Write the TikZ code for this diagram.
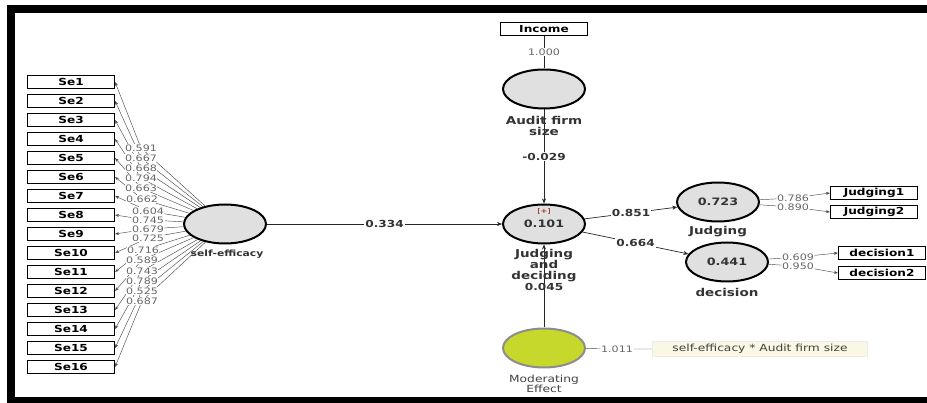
\documentclass[tikz,border=0pt]{standalone}
\usepackage{fontspec}
\setmainfont{DejaVu Sans}[FakeStretch=1.25]
\usetikzlibrary{shapes.geometric,arrows.meta,backgrounds}
\definecolor{modgreen}{RGB}{198,216,44}
\definecolor{itemfill}{RGB}{250,247,228}

\begin{document}
\begin{tikzpicture}[x=1pt,y=-1pt,
  lv/.style={ellipse,draw,line width=2pt,fill=black!12,minimum width=82pt,minimum height=39pt,inner sep=0pt,font=\bfseries\fontsize{10.2}{11}\selectfont,text=black!80},
  ind/.style={draw,line width=1.1pt,minimum width=87pt,minimum height=13pt,inner sep=0pt,font=\bfseries\fontsize{9.7}{10}\selectfont},
  lvname/.style={font=\bfseries\fontsize{10.8}{11}\selectfont,text=black!80,align=center,inner sep=0pt},
  coef/.style={fill=white,inner sep=1pt,font=\bfseries\fontsize{9.7}{10}\selectfont,text=black!80},
  ld/.style={fill=white,inner sep=0.5pt,font=\fontsize{8.9}{9}\selectfont,text=black!60},
  ldline/.style={draw=black!70,line width=0.45pt,-{Stealth[length=4pt,width=3pt]}},
  pth/.style={draw=black!85,line width=0.7pt},
  pthto/.style={pth,-{Stealth[length=5pt,width=4pt]}}]
\useasboundingbox (0,0) rectangle (927,403);
% frame
\fill (7,5) rectangle (927,13);
\fill (7,5) rectangle (15,403);
\fill (7,397) rectangle (927,403);
% self-efficacy and its items
\node[lv] (sef) at (225,224) {};
\node[lvname,font=\bfseries\fontsize{8.6}{9}\selectfont] (sefname) at (227,254) {self-efficacy};
\foreach \i/\v/\lx/\ly in {1/0.591/141/148,2/0.667/141/158,3/0.668/141/168,4/0.794/141/178,5/0.663/141/188,6/0.662/142/199,7/0.604/148/211,8/0.745/148/220,9/0.679/148/229,10/0.725/148/238,11/0.716/143/250,12/0.589/142/260,13/0.743/142/271,14/0.789/142/281,15/0.525/142/291,16/0.687/142/301}{
  \node[ind] (se\i) at (71,{82+19*(\i-1)}) {Se\i};
  \node[ld] (l\i) at (\lx,\ly) {\v};
  \begin{scope}[on background layer]
  \draw[ldline] (sef) -- (l\i) -- (se\i.east);
  \end{scope}
}
% audit firm size
\node[ind] (inc) at (544,29) {Income};
\node[lv] (afs) at (544,89) {};
\node[lvname] (afsname) at (544,126) {Audit firm\\size};
% judging and deciding
\node[lv] (jd) at (544,224) {0.101};
\node[font=\fontsize{6.5}{7}\selectfont,text=red!55!black] (jdplus) at (544,211) {[+]};
\node[lvname] (jdname) at (544,270) {Judging\\and\\deciding\\{\fontsize{9.7}{10}\selectfont 0.045}};
% moderating effect
\node[lv,draw=black!45,fill=modgreen] (mod) at (544,348) {};
\node[align=center,inner sep=0pt,font=\fontsize{9.8}{10}\selectfont,text=black!75] (modname) at (544,384) {Moderating\\Effect};
\node[ld] (l1011) at (617,349) {1.011};
\node[draw=black!8,fill=itemfill,minimum width=215pt,minimum height=15pt,inner sep=0pt,font=\fontsize{9.8}{10}\selectfont,text=black!75] (modit) at (760,349) {self-efficacy * Audit firm size};
% judging, decision
\node[lv] (jg) at (718,202) {0.723};
\node[lvname] (jgname) at (718,232) {Judging};
\node[lv] (dc) at (727,262) {0.441};
\node[lvname] (dcname) at (727,292) {decision};
\node[ind] (jg1) at (874,193) {Judging1};
\node[ind] (jg2) at (874,212) {Judging2};
\node[ind] (dc1) at (882,253) {decision1};
\node[ind] (dc2) at (882,273) {decision2};
\node[ld] (l786) at (793,198) {0.786};
\node[ld] (l890) at (793,207) {0.890};
\node[ld] (l609) at (798,257) {0.609};
\node[ld] (l950) at (798,266) {0.950};
\begin{scope}[on background layer]
\draw[pth] (inc) -- node[ld] {1.000} (afs);
\draw[pthto] (afs) -- node[coef] {-0.029} (jd);
\draw[pthto] (sef) -- node[coef] {0.334} (jd);
\draw[pthto] (mod) -- (jd);
\draw[pthto] (jd) -- node[coef] {0.851} (jg);
\draw[pthto] (jd) -- node[coef] {0.664} (dc);
\draw[draw=black!70,line width=0.45pt] (mod) -- (l1011) -- (modit);
\draw[ldline] (jg) -- (l786) -- (jg1.west);
\draw[ldline] (jg) -- (l890) -- (jg2.west);
\draw[ldline] (dc) -- (l609) -- (dc1.west);
\draw[ldline] (dc) -- (l950) -- (dc2.west);
\end{scope}
\end{tikzpicture}
\end{document}
